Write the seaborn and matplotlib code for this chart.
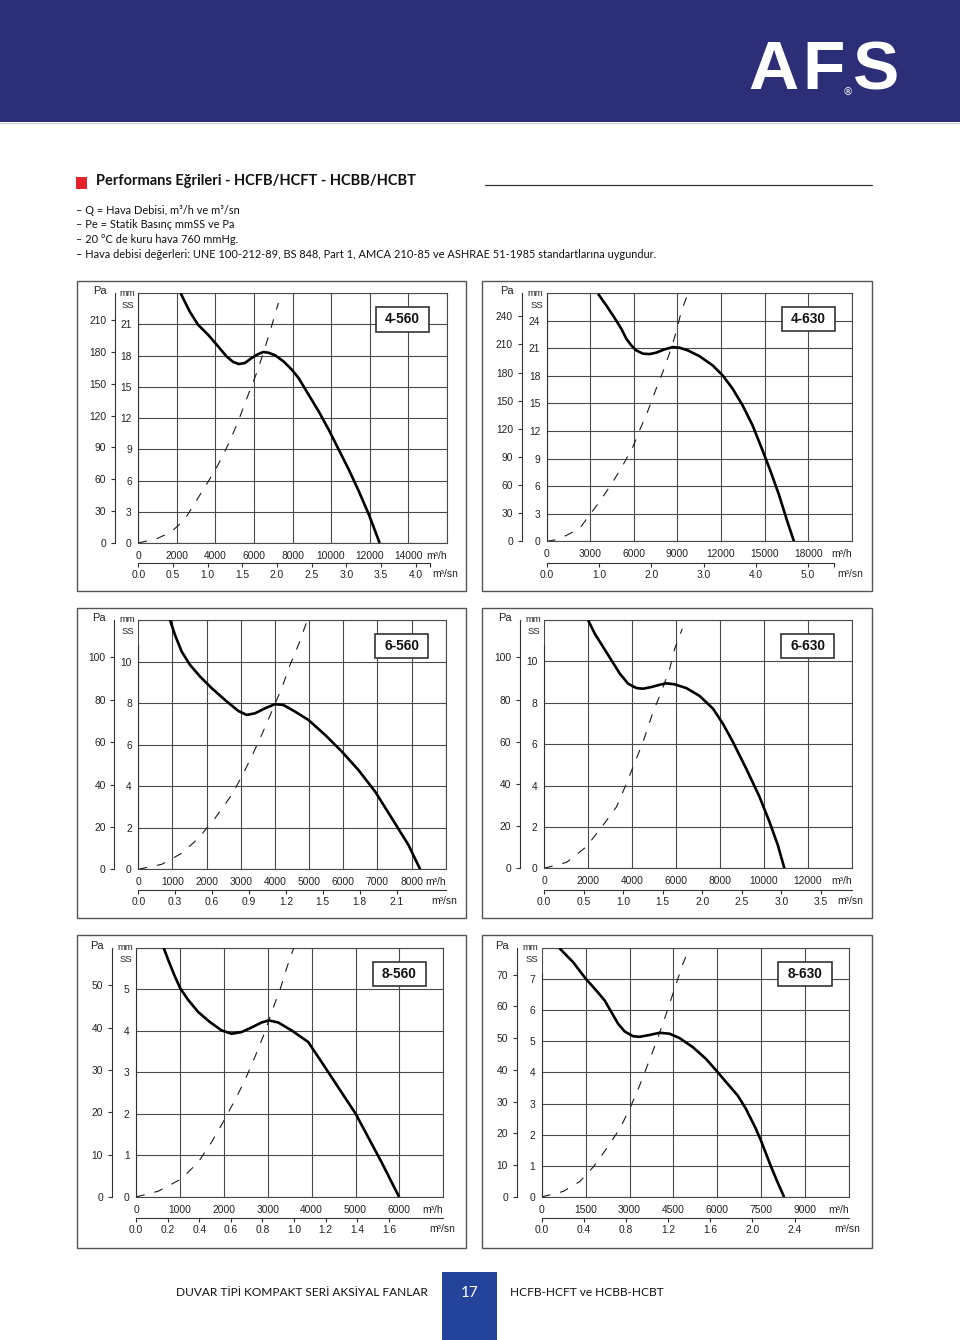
import matplotlib
matplotlib.use("Agg")
import matplotlib.pyplot as plt
import seaborn as sns
from matplotlib import font_manager
from matplotlib.patches import Rectangle
from matplotlib.lines import Line2D

# ---------------------------------------------------------------- data
# flow Q in m3/h, static pressure Pe in mmSS
fan_q_4560 = [2191, 2661, 3096, 3617, 4139, 4574, 4922, 5217, 5530, 5878, 6226, 6487, 6748,
              7096, 7530, 7965, 8313, 8835, 9357, 9878, 10400, 10922, 11443, 11965, 12522]
fan_pe_4560 = [24.0, 22.24, 20.96, 20.0, 18.88, 17.92, 17.38, 17.18, 17.28, 17.76, 18.14, 18.34,
               18.27, 18.02, 17.44, 16.64, 15.84, 14.24, 12.64, 10.88, 8.96, 7.04, 4.96, 2.72, 0.0]
sys_q_4560 = [0, 1009, 1704, 2400, 2991, 3617, 4139, 4661, 5183, 5704, 6139, 6487, 6835, 7270]
sys_pe_4560 = [0.0, 0.45, 1.06, 2.24, 4.0, 5.86, 7.52, 9.44, 11.68, 14.24, 16.32, 18.24, 20.32, 23.04]

fan_q_4630 = [3541, 4113, 4684, 5141, 5484, 5826, 6169, 6626, 7083, 7540, 8111, 8682, 9139, 9711,
              10510, 11424, 12109, 12795, 13480, 14166, 14851, 15422, 15994, 16565, 17022]
fan_pe_4630 = [26.9, 25.63, 24.26, 23.1, 22.02, 21.3, 20.76, 20.4, 20.36, 20.51, 20.87, 21.12, 21.05,
               20.76, 20.14, 19.13, 18.05, 16.61, 14.8, 12.64, 9.93, 7.58, 5.05, 2.17, 0.0]
sys_q_4630 = [0, 685, 1371, 2285, 2970, 3656, 4570, 5255, 5941, 6398, 6855, 7540, 7997, 8568, 8911, 9254, 9711]
sys_pe_4630 = [0.0, 0.18, 0.65, 1.44, 2.89, 4.33, 6.5, 8.3, 10.29, 12.09, 13.72, 16.6, 18.41, 20.94,
               22.74, 24.91, 26.9]

fan_q_6560 = [928, 1074, 1270, 1514, 1807, 2148, 2539, 2930, 3174, 3418, 3711, 4004, 4248, 4590,
              4980, 5469, 5957, 6445, 6934, 7422, 7910, 8252]
fan_pe_6560 = [12.0, 11.28, 10.48, 9.84, 9.28, 8.72, 8.15, 7.62, 7.43, 7.51, 7.75, 7.95, 7.91, 7.59,
               7.19, 6.47, 5.67, 4.78, 3.74, 2.46, 1.17, 0.0]
sys_q_6560 = [0, 684, 1270, 1758, 2246, 2734, 3027, 3320, 3613, 3906, 4199, 4443, 4688, 4951]
sys_pe_6560 = [0.0, 0.24, 0.77, 1.49, 2.46, 3.58, 4.46, 5.43, 6.47, 7.59, 8.72, 9.84, 10.8, 12.0]

fan_q_6630 = [2012, 2315, 2693, 3071, 3449, 3828, 4206, 4508, 4887, 5265, 5567, 5946, 6475, 7080,
              7685, 8139, 8593, 9198, 9803, 10257, 10636, 10938]
fan_pe_6630 = [11.98, 11.33, 10.69, 10.05, 9.41, 8.92, 8.71, 8.68, 8.76, 8.87, 8.94, 8.89, 8.71, 8.33,
               7.72, 6.99, 6.11, 4.82, 3.46, 2.25, 1.13, 0.0]
sys_q_6630 = [0, 1029, 1936, 2693, 3298, 3752, 4206, 4508, 4962, 5340, 5719, 5946, 6293]
sys_pe_6630 = [0.0, 0.29, 1.05, 2.09, 2.97, 4.1, 5.31, 6.11, 7.56, 8.52, 9.65, 10.61, 11.58]

fan_q_8560 = [622, 736, 873, 1009, 1191, 1419, 1684, 1950, 2177, 2405, 2633, 2860, 3027, 3240,
              3543, 3923, 4302, 4681, 5000, 5288, 5592, 5994]
fan_pe_8560 = [6.02, 5.7, 5.34, 5.02, 4.74, 4.45, 4.21, 4.01, 3.93, 3.97, 4.08, 4.2, 4.25, 4.2,
               4.01, 3.73, 3.13, 2.52, 2.01, 1.44, 0.84, 0.0]
sys_q_8560 = [0, 508, 1039, 1419, 1722, 1988, 2253, 2481, 2709, 2936, 3088, 3278, 3429, 3596]
sys_pe_8560 = [0.0, 0.14, 0.44, 0.84, 1.32, 1.81, 2.33, 2.81, 3.37, 3.97, 4.45, 4.98, 5.5, 6.0]

fan_q_8630 = [601, 1078, 1509, 1872, 2156, 2383, 2610, 2837, 3120, 3347, 3688, 4028, 4368, 4709,
              5163, 5616, 5991, 6354, 6694, 6978, 7318, 7488, 7829, 8056, 8283]
fan_pe_8630 = [7.99, 7.53, 7.0, 6.62, 6.3, 5.93, 5.56, 5.31, 5.16, 5.14, 5.2, 5.27, 5.24, 5.1,
               4.81, 4.43, 4.03, 3.63, 3.26, 2.83, 2.19, 1.82, 0.99, 0.48, 0.0]
sys_q_8630 = [0, 738, 1305, 1759, 2213, 2667, 3007, 3347, 3631, 3915, 4198, 4425, 4652, 4822, 5049]
sys_pe_8630 = [0.0, 0.18, 0.5, 0.96, 1.55, 2.19, 2.83, 3.58, 4.27, 4.97, 5.72, 6.36, 7.0, 7.48, 7.99]

# axis ticks per panel
q_ticks_4560 = [0, 2000, 4000, 6000, 8000, 10000, 12000, 14000]
q_ticks_4630 = [0, 3000, 6000, 9000, 12000, 15000, 18000]
q_ticks_6560 = [0, 1000, 2000, 3000, 4000, 5000, 6000, 7000, 8000]
q_ticks_6630 = [0, 2000, 4000, 6000, 8000, 10000, 12000]
q_ticks_8560 = [0, 1000, 2000, 3000, 4000, 5000, 6000]
q_ticks_8630 = [0, 1500, 3000, 4500, 6000, 7500, 9000]

sn_ticks_4560 = [0.0, 0.5, 1.0, 1.5, 2.0, 2.5, 3.0, 3.5, 4.0]
sn_ticks_4630 = [0.0, 1.0, 2.0, 3.0, 4.0, 5.0]
sn_ticks_6560 = [0.0, 0.3, 0.6, 0.9, 1.2, 1.5, 1.8, 2.1]
sn_ticks_6630 = [0.0, 0.5, 1.0, 1.5, 2.0, 2.5, 3.0, 3.5]
sn_ticks_8560 = [0.0, 0.2, 0.4, 0.6, 0.8, 1.0, 1.2, 1.4, 1.6]
sn_ticks_8630 = [0.0, 0.4, 0.8, 1.2, 1.6, 2.0, 2.4]

mm_ticks_4560 = [0, 3, 6, 9, 12, 15, 18, 21]
mm_ticks_4630 = [0, 3, 6, 9, 12, 15, 18, 21, 24]
mm_ticks_6560 = [0, 2, 4, 6, 8, 10]
mm_ticks_6630 = [0, 2, 4, 6, 8, 10]
mm_ticks_8560 = [0, 1, 2, 3, 4, 5]
mm_ticks_8630 = [0, 1, 2, 3, 4, 5, 6, 7]

pa_ticks_4560 = [0, 30, 60, 90, 120, 150, 180, 210]
pa_ticks_4630 = [0, 30, 60, 90, 120, 150, 180, 210, 240]
pa_ticks_6560 = [0, 20, 40, 60, 80, 100]
pa_ticks_6630 = [0, 20, 40, 60, 80, 100]
pa_ticks_8560 = [0, 10, 20, 30, 40, 50]
pa_ticks_8630 = [0, 10, 20, 30, 40, 50, 60, 70]

models = ["4-560", "4-630", "6-560", "6-630", "8-560", "8-630"]

title_text = "Performans Eğrileri - HCFB/HCFT - HCBB/HCBT"
notes = [
    "– Q = Hava Debisi, m³/h ve m³/sn",
    "– Pe = Statik Basınç mmSS ve Pa",
    "– 20 °C de kuru hava 760 mmHg.",
    "– Hava debisi değerleri: UNE 100-212-89, BS 848, Part 1, AMCA 210-85 ve ASHRAE 51-1985 standartlarına uygundur.",
]
footer_left = "DUVAR TİPİ KOMPAKT SERİ AKSİYAL FANLAR"
footer_right = "HCFB-HCFT ve HCBB-HCBT"
page_no = "17"

# ---------------------------------------------------------------- style
sns.set_style("white")
avail = {f.name for f in font_manager.fontManager.ttflist}
CHART_FONT = "Liberation Sans Narrow" if "Liberation Sans Narrow" in avail else "Liberation Sans"
PAGE_FONT = "Lato" if "Lato" in avail else "DejaVu Sans"
plt.rcParams['font.family'] = [CHART_FONT, 'DejaVu Sans']

W, H = 960, 1340
fig = plt.figure(figsize=(W / 100, H / 100), dpi=100)
fig.patch.set_facecolor("white")


def fx(x):
    return x / W


def fy(y):
    return 1 - y / H


def frect(l, t, r, b):
    return [fx(l), fy(b), (r - l) / W, (b - t) / H]


GRID = "#4a4a4a"
TXT = "#222222"
MM2PA = 9.80665

# header band + logo
fig.add_artist(Rectangle((0, fy(122)), 1, 122 / H, transform=fig.transFigure,
                         facecolor="#2c2f78", edgecolor="none", zorder=0))
fig.add_artist(Line2D([0, 1], [fy(122.5), fy(122.5)], transform=fig.transFigure,
                      color="#c9cbe0", lw=0.8))
logo_kw = dict(color="white", fontsize=50, fontweight="bold",
               family=["Liberation Sans", "DejaVu Sans"], ha="left", va="center")
fig.text(fx(748), fy(71), "A", **logo_kw)
fig.text(fx(802), fy(71), "F", **logo_kw)
fig.text(fx(853), fy(71), "S", **logo_kw)
fig.text(fx(848), fy(92), "®", color="white", fontsize=7.5, ha="center", va="center",
         family=["DejaVu Sans"])

# title block
fig.add_artist(Rectangle((fx(76), fy(189)), 11 / W, 12 / H, transform=fig.transFigure,
                         facecolor="#e52229", edgecolor="none"))
fig.text(fx(96), fy(181), title_text, fontsize=10.5, fontweight="bold", color="#111",
         family=[PAGE_FONT, "DejaVu Sans"], ha="left", va="center")
fig.add_artist(Line2D([fx(485), fx(872)], [fy(185), fy(185)], transform=fig.transFigure,
                      color="#333", lw=0.9))
for i, line in enumerate(notes):
    fig.text(fx(76), fy(210 + 14.7 * i), line, fontsize=7.9, color="#111",
             family=[PAGE_FONT, "DejaVu Sans"], ha="left", va="center")

# footer
fig.add_artist(Rectangle((fx(442), 0), 55 / W, 68 / H, transform=fig.transFigure,
                         facecolor="#24439a", edgecolor="none"))
fig.text(fx(469.5), fy(1293), page_no, color="white", fontsize=11,
         family=[PAGE_FONT, "DejaVu Sans"], ha="center", va="center")
fig.text(fx(428), fy(1292), footer_left, color="#111", fontsize=8.6,
         family=[PAGE_FONT, "DejaVu Sans"], ha="right", va="center")
fig.text(fx(510), fy(1292), footer_right, color="#111", fontsize=8.6,
         family=[PAGE_FONT, "DejaVu Sans"], ha="left", va="center")

# ---------------------------------------------------------------- panels
panels = [
    dict(name=models[0], fq=fan_q_4560, fpe=fan_pe_4560, sq=sys_q_4560, spe=sys_pe_4560,
         qt=q_ticks_4560, snt=sn_ticks_4560, mmt=mm_ticks_4560, pat=pa_ticks_4560,
         xmax=16000, ymax=24, spine_top=24, sec_end=4.2,
         box=(77, 281, 466, 591), ax=(138.3, 293, 446.7, 543), pa_x=115, sec_y=563),
    dict(name=models[1], fq=fan_q_4630, fpe=fan_pe_4630, sq=sys_q_4630, spe=sys_pe_4630,
         qt=q_ticks_4630, snt=sn_ticks_4630, mmt=mm_ticks_4630, pat=pa_ticks_4630,
         xmax=21000, ymax=27, spine_top=27, sec_end=5.5,
         box=(482, 281, 872, 591), ax=(546.7, 293, 851.7, 541.3), pa_x=521.7, sec_y=563),
    dict(name=models[2], fq=fan_q_6560, fpe=fan_pe_6560, sq=sys_q_6560, spe=sys_pe_6560,
         qt=q_ticks_6560, snt=sn_ticks_6560, mmt=mm_ticks_6560, pat=pa_ticks_6560,
         xmax=9000, ymax=12, spine_top=10.8, sec_end=None,
         box=(77, 608, 466, 918), ax=(138.3, 620, 445.7, 869.3), pa_x=114.3, sec_y=890),
    dict(name=models[3], fq=fan_q_6630, fpe=fan_pe_6630, sq=sys_q_6630, spe=sys_pe_6630,
         qt=q_ticks_6630, snt=sn_ticks_6630, mmt=mm_ticks_6630, pat=pa_ticks_6630,
         xmax=14000, ymax=12, spine_top=10.8, sec_end=None,
         box=(482, 608, 872, 918), ax=(544, 620, 851.7, 868.3), pa_x=520, sec_y=890),
    dict(name=models[4], fq=fan_q_8560, fpe=fan_pe_8560, sq=sys_q_8560, spe=sys_pe_8560,
         qt=q_ticks_8560, snt=sn_ticks_8560, mmt=mm_ticks_8560, pat=pa_ticks_8560,
         xmax=7000, ymax=6, spine_top=6, sec_end=None,
         box=(77, 935, 466, 1248), ax=(136, 947.7, 443.3, 1197), pa_x=111.7, sec_y=1218),
    dict(name=models[5], fq=fan_q_8630, fpe=fan_pe_8630, sq=sys_q_8630, spe=sys_pe_8630,
         qt=q_ticks_8630, snt=sn_ticks_8630, mmt=mm_ticks_8630, pat=pa_ticks_8630,
         xmax=10500, ymax=8, spine_top=7.2, sec_end=None,
         box=(482, 935, 872, 1248), ax=(541.7, 947.7, 849, 1197), pa_x=516.7, sec_y=1218),
]

for p in panels:
    bl, bt, br, bb = p["box"]
    fig.add_artist(Rectangle((fx(bl), fy(bb)), (br - bl) / W, (bb - bt) / H,
                             transform=fig.transFigure, fill=False, edgecolor="#555555", lw=1.0))
    l, t, r, b = p["ax"]
    ax = fig.add_axes(frect(l, t, r, b))
    aw, ah = r - l, b - t

    sns.lineplot(x=p["sq"], y=p["spe"], ax=ax, color="#1a1a1a", linewidth=0.8, sort=False,
                 estimator=None, linestyle=(0, (8, 9)), zorder=3)
    sns.lineplot(x=p["fq"], y=p["fpe"], ax=ax, color="black", linewidth=1.9, sort=False,
                 estimator=None, zorder=4, solid_joinstyle="round", solid_capstyle="butt")

    ax.set_xlim(0, p["xmax"])
    ax.set_ylim(0, p["ymax"])
    ax.set_xlabel("")
    ax.set_ylabel("")

    # grid: x ticks plus right edge, mm ticks plus top edge
    xt = list(p["qt"]) + [p["xmax"]]
    ax.set_xticks(xt)
    ax.set_xticklabels([str(v) for v in p["qt"]] + [""])
    yt = list(p["mmt"]) + [p["ymax"]]
    ax.set_yticks(yt)
    ax.set_yticklabels([str(v) for v in p["mmt"]] + [""])
    ax.grid(True, color=GRID, lw=0.8)
    ax.set_axisbelow(True)
    for s in ax.spines.values():
        s.set_color(GRID)
        s.set_linewidth(0.8)
    ax.spines["left"].set_bounds(0, p["spine_top"])
    ax.spines["left"].set_color("#333")
    ax.tick_params(axis="x", length=0, pad=5.5, labelsize=7.4, colors=TXT)
    ax.tick_params(axis="y", length=3.2, width=0.8, direction="out", pad=1.5,
                   labelsize=7.4, colors=TXT)
    ax.tick_params(axis="y", which="major", color="#333")

    # Pa axis
    pa_loc = (p["pa_x"] - l) / aw
    sec_y = ax.secondary_yaxis(pa_loc, functions=(lambda v: v * MM2PA, lambda v: v / MM2PA))
    sec_y.set_yticks(p["pat"])
    sec_y.set_yticklabels([str(v) for v in p["pat"]])
    sec_y.tick_params(axis="y", length=3.2, width=0.8, direction="out", pad=3,
                      labelsize=7.4, colors=TXT)
    sec_y.tick_params(axis="y", color="#333")
    sec_y.spines["left"].set_color("#333")
    sec_y.spines["left"].set_linewidth(0.8)

    # m3/sn axis
    sn_loc = -(p["sec_y"] - b) / ah
    sec_x = ax.secondary_xaxis(sn_loc, functions=(lambda v: v / 3600.0, lambda v: v * 3600.0))
    snt = list(p["snt"])
    snl = [f"{v:.1f}" for v in snt]
    if p["sec_end"] is not None:
        snt.append(p["sec_end"])
        snl.append("")
        sec_x.spines["bottom"].set_bounds(0, p["sec_end"])
    sec_x.set_xticks(snt)
    sec_x.set_xticklabels(snl)
    sec_x.tick_params(axis="x", length=3.2, width=0.8, direction="out", pad=1.8,
                      labelsize=7.4, colors=TXT)
    sec_x.tick_params(axis="x", color="#333")
    sec_x.spines["bottom"].set_color("#333")
    sec_x.spines["bottom"].set_linewidth(0.8)

    # unit labels
    ax.text(1.0, -13 / ah, "m³/h", transform=ax.transAxes, ha="right", va="center",
            fontsize=7.4, color=TXT)
    ax.text(1.037, -(p["sec_y"] - b + 11) / ah, "m³/sn", transform=ax.transAxes,
            ha="right", va="center", fontsize=7.4, color=TXT)
    ax.text((p["pa_x"] - 15 - l) / aw, 1 + 2 / ah, "Pa", transform=ax.transAxes,
            ha="center", va="center", fontsize=8, color=TXT, clip_on=False)
    ax.text(-11 / aw, 1.0, "mm", transform=ax.transAxes, ha="center", va="center",
            fontsize=6.8, color=TXT, clip_on=False)
    ax.text(-10 / aw, 1 - 12 / ah, "SS", transform=ax.transAxes, ha="center", va="center",
            fontsize=6.8, color=TXT, clip_on=False)

    # model box
    ax.add_patch(Rectangle((0.770, 0.846), 0.174, 0.098, transform=ax.transAxes,
                           facecolor="white", edgecolor="#333", lw=1.2, zorder=5))
    ax.text(0.857, 0.895, p["name"], transform=ax.transAxes, ha="center", va="center",
            fontsize=9.8, fontweight="bold", color="#111", zorder=6)

fig.savefig("out.png", dpi=100)
